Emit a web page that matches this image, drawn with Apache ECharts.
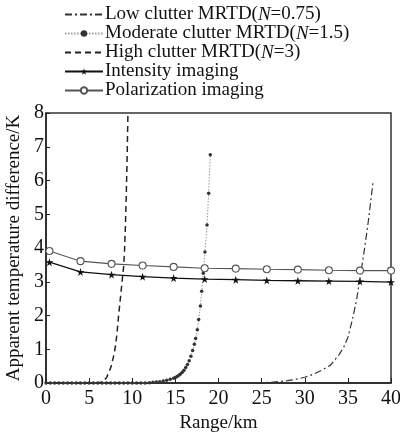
<!DOCTYPE html>
<html>
<head>
<meta charset="utf-8">
<script src="https://cdn.jsdelivr.net/npm/echarts@6/dist/echarts.min.js"></script>
<style>
  html, body { margin: 0; padding: 0; background: #fff; }
  #chart { width: 400px; height: 432px; }
</style>
</head>
<body>
<div id="chart"></div>
<script>
// Range (km) / apparent temperature difference (K)
const lowX = [0, 5, 10, 15, 20, 24, 25, 26, 27, 28, 29, 30, 31, 32, 33, 34, 34.5, 35, 35.5, 36, 36.5, 37, 37.4, 37.9];
const lowY = [0, 0, 0, 0, 0, 0, 0.01, 0.02, 0.04, 0.07, 0.11, 0.17, 0.26, 0.38, 0.53, 0.85, 1.05, 1.35, 1.85, 2.45, 3.25, 4.1, 4.85, 5.92];

const modX = [0, 0.5, 1, 1.5, 2, 2.5, 3, 3.5, 4, 4.5, 5, 5.5, 6, 6.5, 7, 7.5, 8, 8.5, 9, 9.5, 10, 10.5, 11, 11.5,
  12, 12.4, 12.8, 13.2, 13.6, 14, 14.4, 14.8, 15, 15.2, 15.4, 15.6, 15.8, 16, 16.2, 16.4, 16.6, 16.8, 17,
  17.2, 17.35, 17.55, 17.7, 17.9, 18.05, 18.24, 18.43, 18.67, 18.86, 19.05];
const modY = [0, 0, 0, 0, 0, 0, 0, 0, 0, 0, 0, 0, 0, 0, 0, 0, 0, 0, 0, 0, 0, 0, 0, 0,
  0.01, 0.02, 0.03, 0.04, 0.06, 0.08, 0.11, 0.14, 0.16, 0.19, 0.23, 0.27, 0.32, 0.38, 0.46, 0.55, 0.66, 0.79, 0.96,
  1.15, 1.32, 1.58, 1.88, 2.28, 2.72, 3.25, 3.88, 4.68, 5.62, 6.76];

const highX = [0, 2, 4, 6, 6.5, 7, 7.5, 7.8, 8, 8.2, 8.4, 8.6, 8.8, 9, 9.1, 9.2, 9.3, 9.4, 9.5];
const highY = [0, 0, 0, 0, 0.03, 0.15, 0.45, 0.75, 1.0, 1.4, 1.95, 2.45, 2.95, 3.45, 3.9, 4.6, 5.5, 6.6, 8.0];

const imgX = [0.4, 4.0, 7.6, 11.2, 14.8, 18.4, 22.0, 25.6, 29.2, 32.8, 36.4, 40.0];
const intensityY = [3.58, 3.29, 3.21, 3.15, 3.11, 3.08, 3.06, 3.04, 3.03, 3.02, 3.01, 2.99];
const polarY = [3.91, 3.61, 3.53, 3.48, 3.44, 3.40, 3.39, 3.37, 3.36, 3.34, 3.33, 3.33];

const seriesNames = [
  'Low clutter MRTD(N=0.75)',
  'Moderate clutter MRTD(N=1.5)',
  'High clutter MRTD(N=3)',
  'Intensity imaging',
  'Polarization imaging'
];

const zip = (xs, ys) => xs.map((x, i) => [x, ys[i]]);
const serif = '"Liberation Serif", "DejaVu Serif", serif';
const star = 'path://M50,0 L61,35 L98,35 L68,57 L79,91 L50,70 L21,91 L32,57 L2,35 L39,35 Z';

// Curves drawn without markers get a line-only legend swatch
const noMarker = { opacity: 0 };

const chart = echarts.init(document.getElementById('chart'), null, { renderer: 'canvas' });

chart.setOption({
  animation: false,
  backgroundColor: '#fff',
  legend: {
    orient: 'vertical',
    left: 59,
    top: 0,
    itemWidth: 38,
    itemHeight: 8,
    itemGap: 0,
    data: [
      { name: seriesNames[0], itemStyle: noMarker },
      { name: seriesNames[1] },
      { name: seriesNames[2], itemStyle: noMarker },
      { name: seriesNames[3] },
      { name: seriesNames[4] }
    ],
    formatter: function (name) {
      return name.replace('(N=', '({i|N}=');
    },
    textStyle: {
      fontFamily: serif,
      fontSize: 19,
      lineHeight: 19,
      color: '#111',
      padding: [0, 0, 0, -3],
      rich: {
        i: { fontFamily: serif, fontSize: 19, lineHeight: 19, fontStyle: 'italic', color: '#111' }
      }
    }
  },
  grid: {
    left: 46, right: 9, top: 113, bottom: 49,
    outerBoundsMode: 'none',
    containLabel: false,
    show: true,
    borderColor: '#333',
    borderWidth: 1.5
  },
  xAxis: {
    type: 'value',
    min: 0, max: 40, interval: 5,
    name: 'Range/km',
    nameLocation: 'middle',
    nameGap: 26,
    nameTextStyle: { fontFamily: serif, fontSize: 19, color: '#111' },
    axisLine: { show: true, lineStyle: { color: '#222', width: 1.5 } },
    axisTick: { show: true, inside: true, length: 5, lineStyle: { color: '#222' } },
    axisLabel: { fontFamily: serif, fontSize: 20, color: '#111', margin: 6 },
    splitLine: { show: false }
  },
  yAxis: {
    type: 'value',
    min: 0, max: 8, interval: 1,
    name: 'Apparent temperature difference/K',
    nameLocation: 'middle',
    nameGap: 19,
    nameTextStyle: { fontFamily: serif, fontSize: 19, color: '#111' },
    axisLine: { show: true, lineStyle: { color: '#222', width: 1.5 } },
    axisTick: { show: true, inside: true, length: 4, lineStyle: { color: '#222' } },
    axisLabel: { fontFamily: serif, fontSize: 20, color: '#111', margin: 2 },
    splitLine: { show: false }
  },
  series: [
    {
      name: seriesNames[0],
      type: 'line',
      data: zip(lowX, lowY),
      showSymbol: false,
      symbol: 'none',
      lineStyle: { color: '#333', width: 1.2, type: [7, 3, 2, 3] },
      itemStyle: { color: '#333' }
    },
    {
      name: seriesNames[1],
      type: 'line',
      data: zip(modX, modY),
      symbol: 'circle',
      symbolSize: 3.5,
      lineStyle: { color: '#999', width: 1, type: [1.5, 1.5] },
      itemStyle: { color: '#333', borderWidth: 0 }
    },
    {
      name: seriesNames[2],
      type: 'line',
      data: zip(highX, highY),
      showSymbol: false,
      symbol: 'none',
      lineStyle: { color: '#222', width: 1.5, type: [6, 4] },
      itemStyle: { color: '#222' }
    },
    {
      name: seriesNames[3],
      type: 'line',
      data: zip(imgX, intensityY),
      symbol: star,
      symbolSize: 8,
      lineStyle: { color: '#111', width: 1.3 },
      itemStyle: { color: '#111', borderWidth: 0 }
    },
    {
      name: seriesNames[4],
      type: 'line',
      data: zip(imgX, polarY),
      symbol: 'circle',
      symbolSize: 7,
      lineStyle: { color: '#555', width: 1.1 },
      itemStyle: { color: '#fff', borderColor: '#555', borderWidth: 1.1 }
    }
  ]
});
</script>
</body>
</html>
